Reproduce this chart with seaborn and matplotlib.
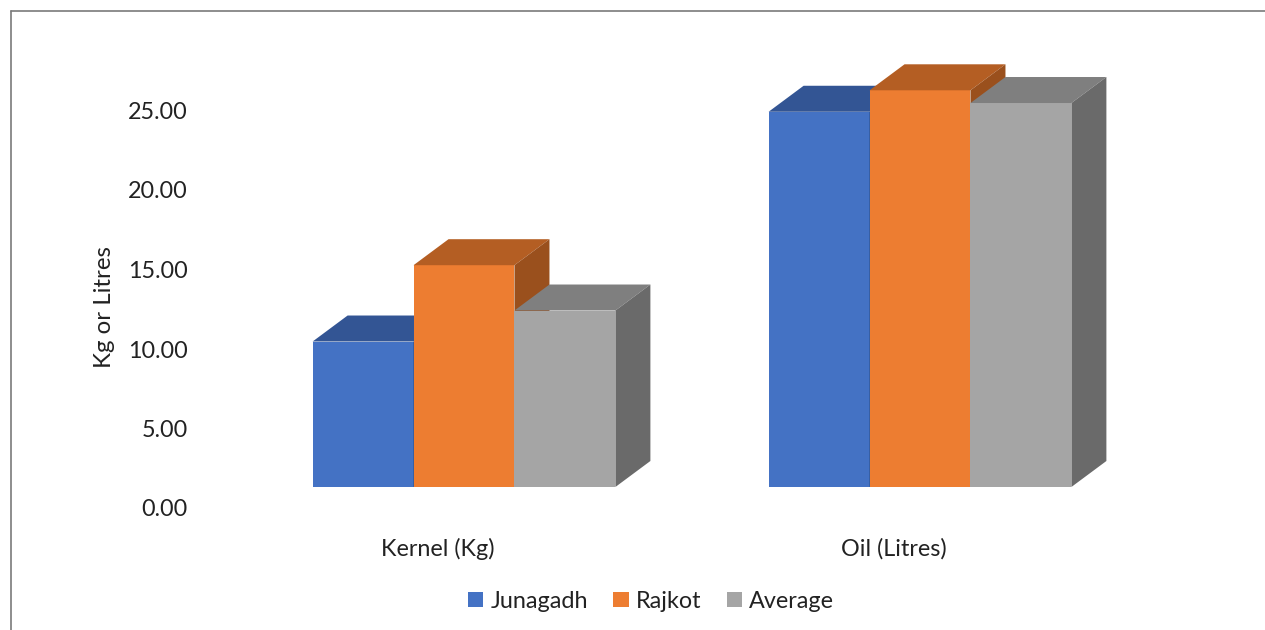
import numpy as np
import pandas as pd
import seaborn as sns
import matplotlib
matplotlib.use("Agg")
import matplotlib.pyplot as plt
from matplotlib.patches import Polygon, Patch
from matplotlib.lines import Line2D
import matplotlib.transforms as mtransforms
from matplotlib.colors import to_rgba

# ---------------- data ----------------
categories = ["Kernel (Kg)", "Oil (Litres)"]
series_names = ["Junagadh", "Rajkot", "Average"]
junagadh = [9.15, 23.6]
rajkot = [13.95, 24.95]
average = [11.1, 24.15]
y_ticks = [0, 5, 10, 15, 20, 25]
y_label = "Kg or Litres"

# ---------------- style ----------------
front_colors = ["#4472C4", "#ED7D31", "#A5A5A5"]
top_colors = ["#335594", "#B45E23", "#7F7F7F"]
side_colors = ["#2A4A80", "#9A501D", "#6A6A6A"]
text_color = "#222222"
FS = 16.8

df = pd.DataFrame({
    "Category": categories * 3,
    "Series": [s for s in series_names for _ in categories],
    "Value": junagadh + rajkot + average,
})

sns.set_theme(style="white")
plt.rcParams["font.family"] = ["Lato", "DejaVu Sans"]

W, H = 1265, 630
fig = plt.figure(figsize=(W / 100, H / 100), dpi=100)
fig.patch.set_facecolor("white")
ax = fig.add_axes([210 / W, (H - 508) / H, 912 / W, 437.25 / H])

sns.barplot(data=df, x="Category", y="Value", hue="Series", order=categories,
            hue_order=series_names, palette=front_colors, width=0.664,
            saturation=1, ax=ax, legend=False, linewidth=0)

ax.set_xlim(-0.5, 1.5)
ax.set_ylim(0, 27.5)
for s in ax.spines.values():
    s.set_visible(False)
ax.grid(False)
ax.set_yticks(y_ticks)
ax.set_yticklabels([f"{v:.2f}" for v in y_ticks])
ax.tick_params(axis="y", length=0, pad=16.0, labelsize=FS, labelcolor=text_color)
ax.tick_params(axis="x", length=0, pad=21.5, labelsize=FS, labelcolor=text_color)
ax.set_xlabel("")
ax.set_ylabel(y_label, fontsize=FS + 0.5, color=text_color)
ax.yaxis.label.set_verticalalignment("center")
ax.yaxis.set_label_coords((104 - 210) / 912, (508 - 307) / 437.25)

# ---------------- pseudo-3D faces ----------------
fx, fy = 26, 21      # bars sit back from the front floor edge (pixels)
dx, dy = 35, 26      # bar depth (pixels)
front_rgba = [to_rgba(c) for c in front_colors]
bars = sorted(list(ax.patches), key=lambda p: p.get_x())
shift = mtransforms.Affine2D().translate(fx, fy)
ident = mtransforms.IdentityTransform()
for i, p in enumerate(bars):
    fc = p.get_facecolor()
    k = int(np.argmin([sum((a - b) ** 2 for a, b in zip(fc, c)) for c in front_rgba]))
    x0, y0, w, h = p.get_x(), p.get_y(), p.get_width(), p.get_height()
    X0, Y0 = ax.transData.transform((x0, y0))
    X1, Y1 = ax.transData.transform((x0 + w, y0 + h))
    X0 += fx; X1 += fx; Y0 += fy; Y1 += fy
    z = 2 + i * 0.1
    p.set_transform(ax.transData + shift)
    p.set_zorder(z)
    p.set_clip_on(False)
    top = Polygon([(X0, Y1), (X1, Y1), (X1 + dx, Y1 + dy), (X0 + dx, Y1 + dy)],
                  closed=True, transform=ident, facecolor=top_colors[k],
                  edgecolor="none", zorder=z + 0.01, clip_on=False)
    side = Polygon([(X1, Y0), (X1 + dx, Y0 + dy), (X1 + dx, Y1 + dy), (X1, Y1)],
                   closed=True, transform=ident, facecolor=side_colors[k],
                   edgecolor="none", zorder=z + 0.02, clip_on=False)
    ax.add_patch(top)
    ax.add_patch(side)

# ---------------- legend ----------------
handles = [Patch(facecolor=c, edgecolor="none") for c in front_colors]
fig.legend(handles=handles, labels=series_names, loc="center",
           bbox_to_anchor=(651 / W, 1 - 601 / H), ncol=3, frameon=False,
           fontsize=FS, handlelength=0.65, handleheight=0.65,
           handletextpad=0.3, columnspacing=1.1, labelcolor=text_color)

# ---------------- border ----------------
fig.add_artist(Line2D([11 / W, 11 / W], [0, 1 - 11 / H], color="#7A7A7A", lw=1.2,
                      transform=fig.transFigure))
fig.add_artist(Line2D([11 / W, 1], [1 - 11 / H, 1 - 11 / H], color="#7A7A7A", lw=1.2,
                      transform=fig.transFigure))

fig.savefig("out.png", dpi=100, facecolor="white")
